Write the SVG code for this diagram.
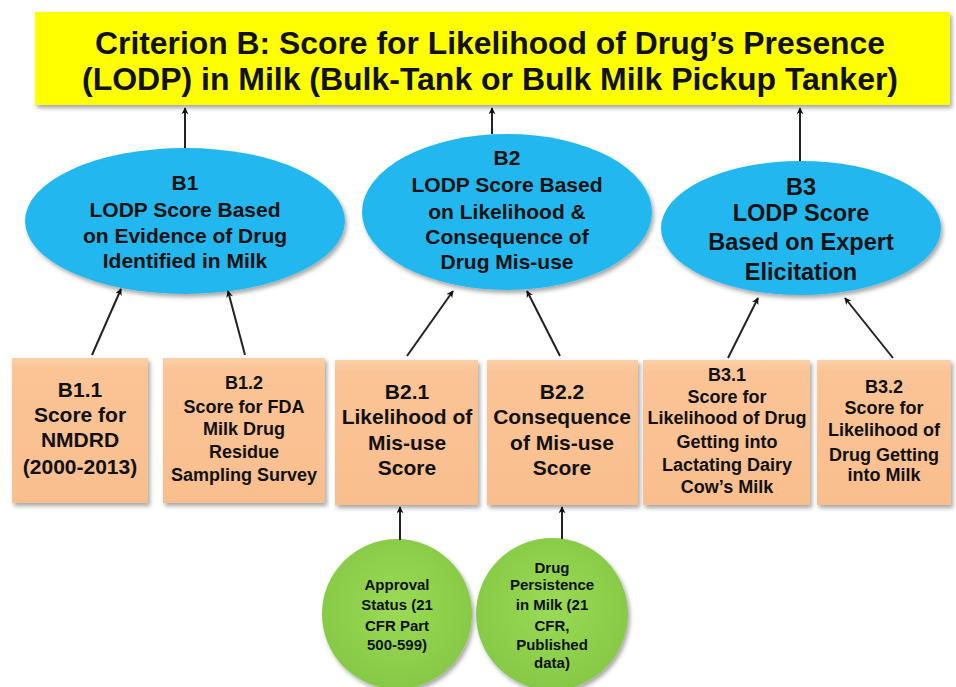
<svg xmlns="http://www.w3.org/2000/svg" width="956" height="687" viewBox="0 0 956 687">
<defs>
  <marker id="ah" viewBox="0 0 10 10" refX="9" refY="5" markerWidth="7" markerHeight="7" markerUnits="userSpaceOnUse" orient="auto">
    <path d="M0,0 L10,5 L0,10 L3,5 Z" fill="#111"/>
  </marker>
  <filter id="sh" x="-10%" y="-10%" width="120%" height="125%">
    <feDropShadow dx="2" dy="3" stdDeviation="2" flood-color="#000" flood-opacity="0.35"/>
  </filter>
  <radialGradient id="gr" cx="50%" cy="45%" r="55%">
    <stop offset="0" stop-color="#9ADA55"/>
    <stop offset="1" stop-color="#86C946"/>
  </radialGradient>
  <linearGradient id="pe" x1="0" y1="0" x2="0" y2="1">
    <stop offset="0" stop-color="#FCD0A8"/>
    <stop offset="0.08" stop-color="#FBC496"/>
    <stop offset="1" stop-color="#F9BE8E"/>
  </linearGradient>
</defs>
<style>
  text { font-family: "Liberation Sans", Arial, sans-serif; font-weight: bold; fill: #111; text-anchor: middle; }
  .title { font-size: 32px; }
  .ell { fill: #22B8EF; filter: url(#sh); }
  .box { fill: url(#pe); filter: url(#sh); }
  .circ { fill: url(#gr); filter: url(#sh); }
  .conn line { stroke: #222; stroke-width: 2; marker-end: url(#ah); }
  .t20 { font-size: 21px; }
  .t21 { font-size: 21px; }
  .t18 { font-size: 18px; }
  .t23 { font-size: 23.5px; }
  .t14 { font-size: 15px; }
</style>
<rect width="956" height="687" fill="#fff"/>

<g id="title">
  <rect x="35" y="12" width="915" height="93" fill="#FFFF00" filter="url(#sh)"/>
  <text class="title" x="490" y="54" textLength="790" lengthAdjust="spacingAndGlyphs">Criterion B: Score for Likelihood of Drug’s Presence</text>
  <text class="title" x="490" y="90" textLength="816" lengthAdjust="spacingAndGlyphs">(LODP) in Milk (Bulk-Tank or Bulk Milk Pickup Tanker)</text>
</g>

<g id="B1">
  <ellipse class="ell" cx="185" cy="221" rx="160" ry="73"/>
  <text class="t20" x="185" y="190">B1</text>
  <text class="t20" x="185" y="217">LODP  Score Based</text>
  <text class="t20" x="185" y="243">on Evidence of Drug</text>
  <text class="t20" x="185" y="268">Identified in Milk</text>
</g>
<g id="B2">
  <ellipse class="ell" cx="507" cy="212" rx="145" ry="78"/>
  <text class="t20" x="507" y="165">B2</text>
  <text class="t20" x="507" y="192">LODP  Score Based</text>
  <text class="t20" x="507" y="219">on Likelihood &amp;</text>
  <text class="t20" x="507" y="244">Consequence of</text>
  <text class="t20" x="507" y="269">Drug Mis-use</text>
</g>
<g id="B3">
  <ellipse class="ell" cx="801" cy="228" rx="140" ry="67"/>
  <text class="t23" x="801" y="195">B3</text>
  <text class="t23" x="801" y="221">LODP  Score</text>
  <text class="t23" x="801" y="250">Based on Expert</text>
  <text class="t23" x="801" y="280">Elicitation</text>
</g>

<g id="B1.1">
  <rect class="box" x="12" y="358" width="136" height="145"/>
  <text class="t21" x="80" y="397">B1.1</text>
  <text class="t21" x="80" y="422">Score for</text>
  <text class="t21" x="80" y="447">NMDRD</text>
  <text class="t21" x="80" y="474">(2000-2013)</text>
</g>
<g id="B1.2">
  <rect class="box" x="163" y="358" width="162" height="145"/>
  <text class="t18" x="244" y="389">B1.2</text>
  <text class="t18" x="244" y="413">Score for FDA</text>
  <text class="t18" x="244" y="435">Milk Drug</text>
  <text class="t18" x="244" y="458">Residue</text>
  <text class="t18" x="244" y="481">Sampling Survey</text>
</g>
<g id="B2.1">
  <rect class="box" x="335" y="360" width="143" height="145"/>
  <text class="t21" x="407" y="399">B2.1</text>
  <text class="t21" x="407" y="424">Likelihood of</text>
  <text class="t21" x="407" y="450">Mis-use</text>
  <text class="t21" x="407" y="475">Score</text>
</g>
<g id="B2.2">
  <rect class="box" x="487" y="360" width="151" height="145"/>
  <text class="t21" x="562" y="399">B2.2</text>
  <text class="t21" x="562" y="424">Consequence</text>
  <text class="t21" x="562" y="450">of Mis-use</text>
  <text class="t21" x="562" y="475">Score</text>
</g>
<g id="B3.1">
  <rect class="box" x="643" y="360" width="167" height="145"/>
  <text class="t18" x="727" y="381">B3.1</text>
  <text class="t18" x="727" y="403">Score for</text>
  <text class="t18" x="727" y="424">Likelihood of Drug</text>
  <text class="t18" x="727" y="448">Getting into</text>
  <text class="t18" x="727" y="471">Lactating Dairy</text>
  <text class="t18" x="727" y="493">Cow’s Milk</text>
</g>
<g id="B3.2">
  <rect class="box" x="817" y="360" width="134" height="145"/>
  <text class="t18" x="884" y="393">B3.2</text>
  <text class="t18" x="884" y="414">Score for</text>
  <text class="t18" x="884" y="436">Likelihood of</text>
  <text class="t18" x="884" y="461">Drug Getting</text>
  <text class="t18" x="884" y="481">into Milk</text>
</g>

<g id="approval">
  <circle class="circ" cx="397" cy="614" r="75"/>
  <text class="t14" x="397" y="590">Approval</text>
  <text class="t14" x="397" y="610">Status (21</text>
  <text class="t14" x="397" y="631">CFR Part</text>
  <text class="t14" x="397" y="650">500-599)</text>
</g>
<g id="persistence">
  <circle class="circ" cx="552" cy="614" r="76"/>
  <text class="t14" x="552" y="573">Drug</text>
  <text class="t14" x="552" y="590">Persistence</text>
  <text class="t14" x="552" y="610">in Milk (21</text>
  <text class="t14" x="552" y="631">CFR,</text>
  <text class="t14" x="552" y="650">Published</text>
  <text class="t14" x="552" y="668">data)</text>
</g>

<g id="connectors" class="conn">
  <line x1="185" y1="148" x2="185" y2="108"/>
  <line x1="492" y1="134" x2="492" y2="108"/>
  <line x1="800" y1="161" x2="800" y2="108"/>
  <line x1="92" y1="355" x2="121" y2="289"/>
  <line x1="245" y1="355" x2="228" y2="291"/>
  <line x1="407" y1="356" x2="453" y2="291"/>
  <line x1="560" y1="356" x2="527" y2="291"/>
  <line x1="728" y1="358" x2="758" y2="298"/>
  <line x1="893" y1="358" x2="845" y2="298"/>
  <line x1="400" y1="540" x2="400" y2="507"/>
  <line x1="562" y1="539" x2="562" y2="507"/>
</g>
</svg>
